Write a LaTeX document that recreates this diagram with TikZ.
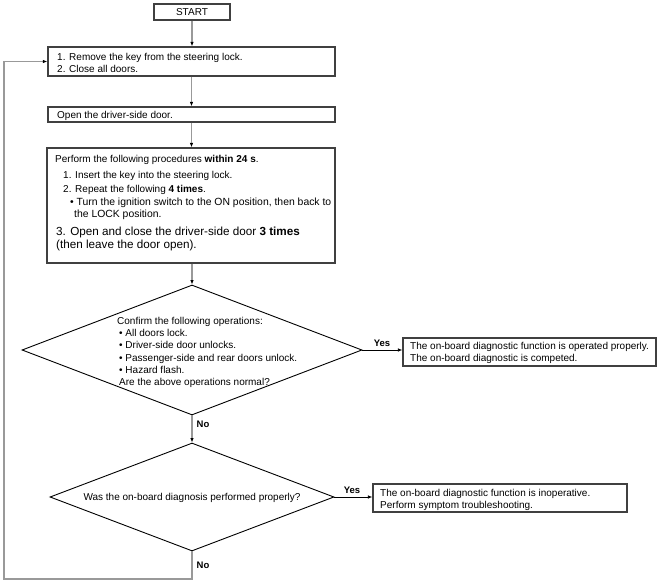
\documentclass[tikz,border=0pt]{standalone}
\usepackage{fontspec}
\setmainfont{Liberation Sans}
\usetikzlibrary{shapes.geometric,arrows.meta}
\begin{document}
\begin{tikzpicture}[x=1pt,y=-1pt,
  font=\fontsize{10}{12}\selectfont,
  box/.style={draw=black!75,line width=1.2pt,inner sep=0,rectangle},
  dia/.style={draw=black,line width=0.9pt,diamond,inner sep=0},
  txt/.style={inner sep=0,anchor=north west,align=left},
  ln/.style={inner sep=0,anchor=base west},
  conn/.style={draw=black!40,line width=1.1pt,-{Latex[length=4.5pt,width=3.5pt,color=black]}},
  yesconn/.style={draw=black,line width=0.8pt,-{Latex[length=4.5pt,width=3.5pt]}},
  lbl/.style={font=\fontsize{9.5}{11}\selectfont\bfseries,inner sep=0}]
\useasboundingbox (0,0) rectangle (659,583);

% boxes
\node[box,minimum width=76,minimum height=16] (start) at (192,12) {START};
\node[box,minimum width=287,minimum height=29] (b1) at (191.5,61.5) {};
\node[box,minimum width=287,minimum height=15] (b2) at (191.5,114.5) {};
\node[box,minimum width=288,minimum height=115] (b3) at (191,205.5) {};
\node[dia,minimum width=340,minimum height=130] (d1) at (192,350) {};
\node[dia,minimum width=284,minimum height=108] (d2) at (192,497) {};
\node[box,minimum width=253,minimum height=28] (r1) at (529.5,352) {};
\node[box,minimum width=254,minimum height=28] (r2) at (500,498) {};

% texts
\node[txt,font=\fontsize{10}{12.5}\selectfont] (b1t) at (57,52.8) {1. Remove the key from the steering lock.\\2. Close all doors.};
\node[txt] (b2t) at (57,111.3) {Open the driver-side door.};

\node[ln] (p0) at (55,162.6) {Perform the following procedures \textbf{within 24 s}.};
\node[ln] (p1) at (63,178.6) {1. Insert the key into the steering lock.};
\node[ln] (p2) at (63,192.3) {2. Repeat the following \textbf{4 times}.};
\node[ln,font=\fontsize{10.4}{12}\selectfont] (p3) at (70,205.6) {\textbullet\ Turn the ignition switch to the ON position, then back to};
\node[ln,font=\fontsize{10.4}{12}\selectfont] (p4) at (74,217.6) {the LOCK position.};
\node[ln,font=\fontsize{11.7}{14}\selectfont] (p5) at (56,235) {3. Open and close the driver-side door \textbf{3 times}};
\node[ln,font=\fontsize{11.7}{14}\selectfont] (p6) at (56,248.5) {(then leave the door open).};

\node[txt,font=\fontsize{10}{12.2}\selectfont] (d1t) at (117,317) {Confirm the following operations:\\
\hspace*{2pt}\textbullet\ All doors lock.\\
\hspace*{2pt}\textbullet\ Driver-side door unlocks.\\
\hspace*{2pt}\textbullet\ Passenger-side and rear doors unlock.\\
\hspace*{2pt}\textbullet\ Hazard flash.\\
\hspace*{2pt}Are the above operations normal?};

\node[inner sep=0] (d2t) at (192,498) {Was the on-board diagnosis performed properly?};

\node[txt] (r1t) at (410,342.3) {The on-board diagnostic function is operated properly.\\The on-board diagnostic is competed.};
\node[txt] (r2t) at (380,489.3) {The on-board diagnostic function is inoperative.\\Perform symptom troubleshooting.};

% connectors
\draw[conn] (start.south) -- (start.south |- b1.north);
\draw[conn] (b1.south) -- (b1.south |- b2.north);
\draw[conn] (b2.south) -- (b2.south |- b3.north);
\draw[conn] (b3.south -| d1.north) -- (d1.north);
\draw[conn] (d1.south) -- (d2.north);
\draw[yesconn] (d1.east) -- (d1.east -| r1.west);
\draw[yesconn] (d2.east) -- (d2.east -| r2.west);
\coordinate (lb) at (4,579);
\draw[conn] (d2.south) |- (lb) |- (b1.west);

% labels
\node[lbl] (y1) at (382,343) {Yes};
\node[lbl] (y2) at (352,490) {Yes};
\node[lbl] (n1) at (203,424) {No};
\node[lbl] (n2) at (203,565) {No};
\end{tikzpicture}
\end{document}
